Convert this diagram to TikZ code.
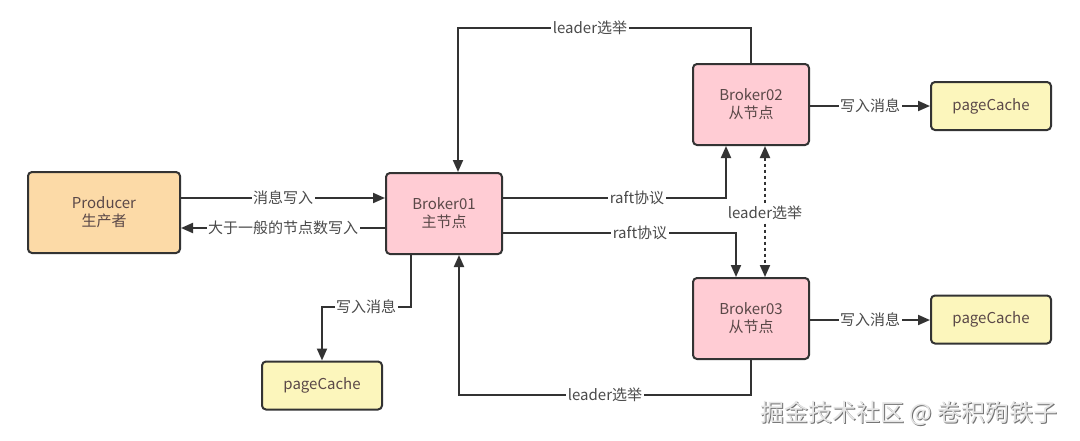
\documentclass[tikz,border=0pt]{standalone}
\usepackage{fontspec}
\setmainfont{Noto Sans CJK SC}
\usetikzlibrary{arrows.meta}
\definecolor{linec}{HTML}{333333}
\definecolor{prodc}{HTML}{FCDAA7}
\definecolor{brokc}{HTML}{FFCCD4}
\definecolor{pagec}{HTML}{FCF6BC}
\definecolor{nodetxt}{HTML}{5A4848}
\definecolor{lbltxt}{HTML}{4A4A4A}
\begin{document}
\begin{tikzpicture}[x=1pt,y=-1pt,
  box/.style={draw=linec, line width=2pt, rounded corners=4pt, align=center,
    text=nodetxt, font=\fontsize{15}{18}\selectfont},
  brok/.style={box, fill=brokc, minimum width=116pt, minimum height=81pt},
  page/.style={box, fill=pagec, minimum width=120pt, minimum height=48pt},
  conn/.style={draw=linec, line width=2pt, -{Triangle[length=12pt,width=10pt]}},
  dots/.style={draw=linec, line width=2pt, dash pattern=on 3pt off 3pt,
    {Triangle[length=12pt,width=10pt]}-{Triangle[length=12pt,width=10pt]}},
  lbl/.style={fill=white, inner sep=1.5pt, text=lbltxt, font=\fontsize{15}{16}\selectfont}]
\useasboundingbox[fill=white] (0,0) rectangle (1080,440);

\node[box, fill=prodc, minimum width=152pt, minimum height=81pt] (prod) at (104,212.5) {Producer\\生产者};
\node[brok] (b1) at (444,213.5) {Broker01\\主节点};
\node[brok] (b2) at (751,104.5) {Broker02\\从节点};
\node[brok] (b3) at (751,318.5) {Broker03\\从节点};
\node[page] (pc1) at (991,106) {pageCache};
\node[page] (pc2) at (991,319.5) {pageCache};
\node[page] (pc3) at (322,385.5) {pageCache};

% producer <-> broker01
\draw[conn] (prod.east |- 0,198) -- node[lbl] (l1) {消息写入} (b1.west |- 0,198);
\draw[conn] (b1.west |- 0,228) -- node[lbl] (l2) {大于一般的节点数写入} (prod.east |- 0,228);

% leader election top
\coordinate (t1) at (751,28);
\coordinate (t2) at (458,28);
\draw[conn] (b2.north) -- (t1) -- (t2) -- (b1.north -| t2);
\node[lbl] (l3) at (590,28) {leader选举};

% leader election bottom
\coordinate (u1) at (751,395);
\coordinate (u2) at (459,395);
\draw[conn] (b3.south) -- (u1) -- (u2) -- (b1.south -| u2);
\node[lbl] (l4) at (605,395) {leader选举};

% raft
\coordinate (r1) at (726,198);
\draw[conn] (b1.east |- r1) -- (r1) -- (b2.south -| r1);
\node[lbl] (l5) at (637,198) {raft协议};
\coordinate (r2) at (736,233);
\draw[conn] (b1.east |- r2) -- (r2) -- (b3.north -| r2);
\node[lbl] (l6) at (640,233) {raft协议};

% dotted leader election
\coordinate (d1) at (765,0);
\draw[dots] (b2.south -| d1) -- (b3.north -| d1);
\node[lbl] (l7) at (765,213) {leader选举};

% write to page cache
\coordinate (w1) at (411,307);
\coordinate (w2) at (322,307);
\draw[conn] (b1.south -| w1) -- (w1) -- (w2) -- (pc3.north);
\node[lbl] (l8) at (366,307) {写入消息};
\draw[conn] (b2.east |- 0,106) -- node[lbl] (l9) {写入消息} (pc1.west |- 0,106);
\draw[conn] (b3.east |- 0,320) -- node[lbl] (l10) {写入消息} (pc2.west |- 0,320);

% watermark
\node[text=black!55, font=\fontsize{24}{28}\selectfont] (wm0) at (910,414.5) {掘金技术社区 @ 卷积殉铁子};
\node[text=black!10, font=\fontsize{24}{28}\selectfont] (wm) at (909,413) {掘金技术社区 @ 卷积殉铁子};
\end{tikzpicture}
\end{document}
